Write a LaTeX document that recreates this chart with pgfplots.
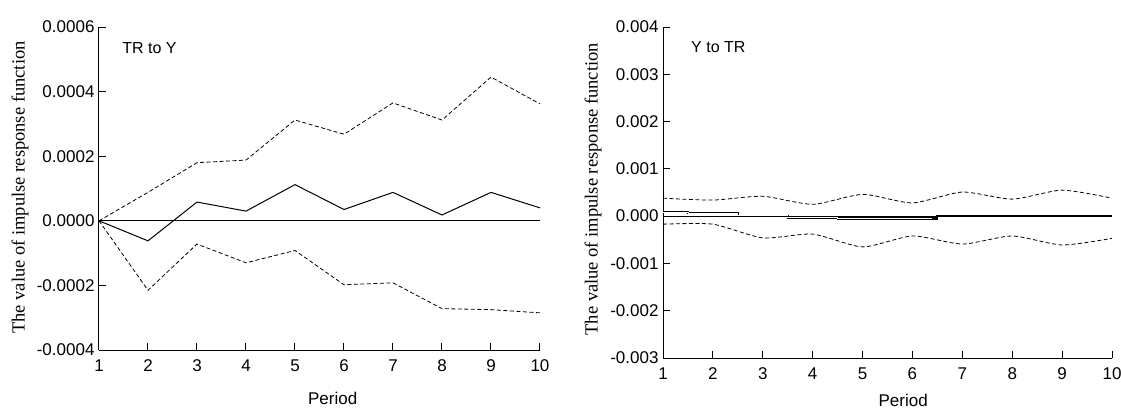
\documentclass[border=0pt]{standalone}
\usepackage{fontspec}
\setmainfont{Liberation Sans}
\newfontfamily\seriffont{Liberation Serif}
\usepackage{pgfplots}
\pgfplotsset{compat=1.18}
\begin{document}
\begin{tikzpicture}
\pgfplotsset{
  irf/.style={
    scale only axis,
    axis x line=bottom, axis y line=left,
    axis line style={-, line width=1pt},
    tick align=inside, major tick length=7pt,
    tick style={line width=1pt, black},
    xmin=1, xmax=10, xtick={1,...,10},
    scaled y ticks=false,
    /pgf/number format/assume math mode=true,
    font=\fontsize{17}{19}\selectfont,
    xlabel={Period},
    xticklabel style={yshift=-6pt},
    ylabel style={font=\seriffont\fontsize{18.5}{20}\selectfont, anchor=center},
    ylabel={The value of impulse response function},
    yticklabel style={xshift=-1pt},
    clip=false,
    dashline/.style={black, line width=0.8pt, dash pattern=on 4pt off 2.5pt},
  }
}
\path[use as bounding box] (-99pt,-60pt) rectangle (1022pt,350pt);
\begin{axis}[irf, at={(0pt,0pt)}, anchor=south west, width=441pt, height=323pt,
  ymin=-0.0004, ymax=0.0006,
  ytick={-0.0004,-0.0002,0,0.0002,0.0004,0.0006},
  yticklabels={-0.0004,-0.0002,0.0000,0.0002,0.0004,0.0006},
  xlabel style={at={(axis description cs:0.53,0)}, anchor=center, yshift=-48pt},
  ylabel style={at={(axis description cs:-0.179,0.503)}}]
\addplot[black, line width=0.8pt] coordinates {(1,0) (10,0)};
\addplot[black, line width=1pt] coordinates {
 (1,0) (2,-0.000062) (3,0.000058) (4,0.00003) (5,0.000112) (6,0.000035) (7,0.000088) (8,0.000018) (9,0.000088) (10,0.000040)};
\addplot[dashline] coordinates {
 (1,0) (2,0.000088) (3,0.000180) (4,0.000188) (5,0.000312) (6,0.000268) (7,0.000365) (8,0.000312) (9,0.000445) (10,0.000362)};
\addplot[dashline] coordinates {
 (1,0) (2,-0.000215) (3,-0.000072) (4,-0.000130) (5,-0.000092) (6,-0.000198) (7,-0.000192) (8,-0.000272) (9,-0.000275) (10,-0.000285)};
\node[anchor=west, font=\fontsize{16}{18}\selectfont] at (axis description cs:0.045,0.935) {TR to Y};
\end{axis}
\begin{axis}[irf, at={(564pt,-8pt)}, anchor=south west, width=449pt, height=331pt,
  ymin=-0.003, ymax=0.004,
  ytick={-0.003,-0.002,-0.001,0,0.001,0.002,0.003,0.004},
  yticklabels={-0.003,-0.002,-0.001,0.000,0.001,0.002,0.003,0.004},
  xlabel style={at={(axis description cs:0.535,0)}, anchor=center, yshift=-42pt},
  ylabel style={at={(axis description cs:-0.156,0.51)}}]
\addplot[black, line width=2.2pt, const plot mark mid] coordinates {
 (1,0.00009) (2,0.00006) (3,0.00001) (4,-0.00003) (5,-0.00005) (6,-0.00005) (7,0) (8,0) (9,0) (10,0)};
\addplot[white, line width=0.7pt, const plot mark mid] coordinates {
 (1,0.00009) (2,0.00006) (3,0.00001) (4,-0.00003) (5,-0.00005) (6,-0.00005) (6.4,-0.00005)};
\addplot[black, line width=1.1pt] coordinates {(1,0) (10,0)};
\addplot[dashline, smooth, tension=0.4] coordinates {
 (1,0.00038) (2,0.00034) (3,0.00042) (4,0.00025) (5,0.00046) (6,0.00028) (7,0.00051) (8,0.00036) (9,0.00055) (10,0.00038)};
\addplot[dashline, smooth, tension=0.4] coordinates {
 (1,-0.00017) (2,-0.00017) (3,-0.00046) (4,-0.00038) (5,-0.00065) (6,-0.00042) (7,-0.00059) (8,-0.00042) (9,-0.00061) (10,-0.00047)};
\node[anchor=west, font=\fontsize{16}{18}\selectfont] at (axis description cs:0.055,0.94) {Y to TR};
\end{axis}
\end{tikzpicture}
\end{document}
